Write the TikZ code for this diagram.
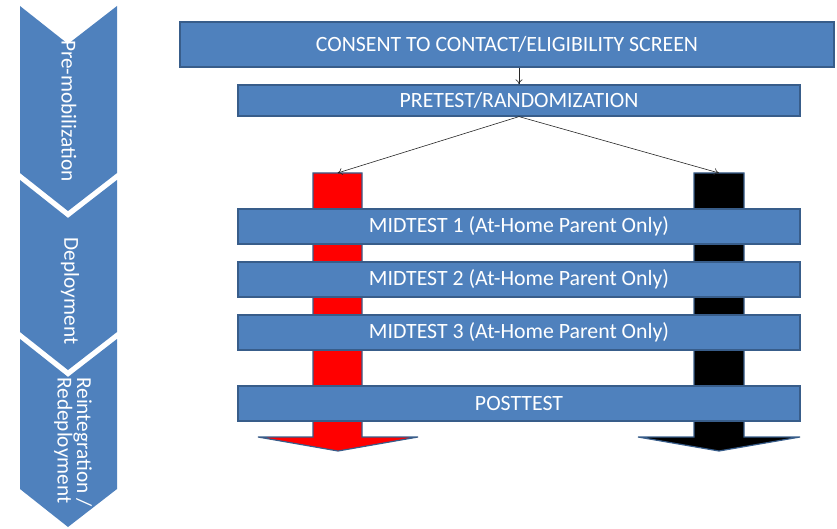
\documentclass[tikz,border=0pt]{standalone}
\usepackage{fontspec}
\setmainfont{Carlito}
\usetikzlibrary{arrows.meta}
\definecolor{boxblue}{HTML}{4F81BD}
\definecolor{boxedge}{HTML}{385D8A}
\begin{document}
\begin{tikzpicture}[x=1pt,y=-1pt,
  box/.style={draw=boxedge, fill=boxblue, line width=1.2pt, text=white,
    font=\fontsize{21.8}{24}\selectfont, inner sep=0pt, minimum width=562pt},
  phase/.style={text=white, font=\fontsize{21.3}{19.5}\selectfont, rotate=-90, inner sep=0pt},
  conn/.style={draw=black!85, line width=0.6pt, -{To[length=5pt,width=7pt]}},
  bar/.style={draw=boxedge, line width=1.2pt, line join=miter}]
\useasboundingbox (0,0) rectangle (837,529);
% phase chevrons
\fill[boxblue] (20,6) -- (68,44) -- (117,6) -- (117,173) -- (68,211) -- (20,173) -- cycle;
\fill[boxblue] (20,180) -- (68,218) -- (117,180) -- (117,332) -- (68,370) -- (20,332) -- cycle;
\fill[boxblue] (20,339) -- (68,377) -- (117,339) -- (117,489) -- (68,527) -- (20,489) -- cycle;
\node[phase] (pre) at (69,111) {Pre-mobilization};
\node[phase] (dep) at (70,291) {Deployment};
\node[phase, align=left] (rei) at (73,442) {Reintegration /\\Redeployment};
% group arrows
\draw[bar, fill=red] (313,173) -- (362,173) -- (362,437) -- (418,437) -- (338,451) -- (258,437) -- (313,437) -- cycle;
\draw[bar, fill=black] (694,173) -- (744,173) -- (744,437) -- (800,437) -- (719,451) -- (638,437) -- (694,437) -- cycle;
\coordinate (redtop) at (337.5,173);
\coordinate (blacktop) at (719,173);
% boxes
\node[box, minimum width=654pt, minimum height=45pt] (consent) at (507,44.5) {CONSENT TO CONTACT/ELIGIBILITY SCREEN};
\node[box, minimum height=31pt] (pretest) at (519,100.5) {PRETEST/RANDOMIZATION};
\node[box, minimum height=35pt] (mid1) at (519,226.5) {MIDTEST 1 (At-Home Parent Only)};
\node[box, minimum height=35pt] (mid2) at (519,279.5) {MIDTEST 2 (At-Home Parent Only)};
\node[box, minimum height=35pt] (mid3) at (519,332.5) {MIDTEST 3 (At-Home Parent Only)};
\node[box, minimum height=35pt] (post) at (519,403.5) {POSTTEST};
% connectors
\draw[conn] (consent.south -| pretest.north) -- (pretest.north);
\draw[conn] (pretest.south) -- (redtop);
\draw[conn] (pretest.south) -- (blacktop);
\end{tikzpicture}
\end{document}
